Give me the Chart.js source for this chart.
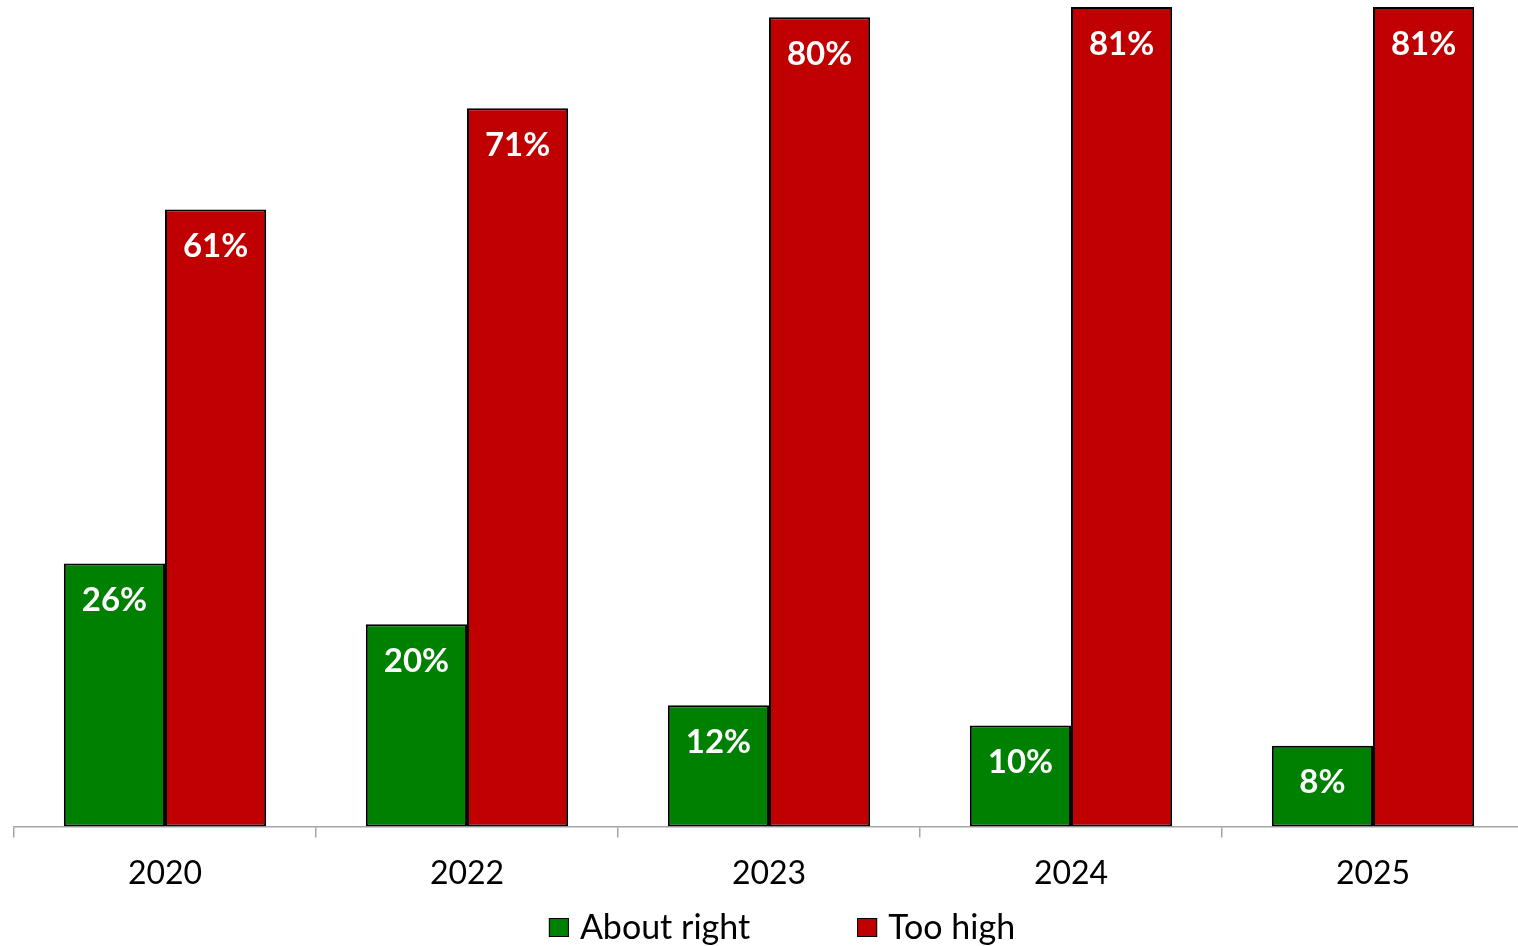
<!DOCTYPE html>
<html>
<head>
<meta charset="utf-8">
<title>About right vs Too high</title>
<script src="https://cdn.jsdelivr.net/npm/chart.js@4"></script>
<style>
  html, body { margin: 0; padding: 0; background: #fff; overflow: hidden; }
  #wrap { width: 1524px; height: 946px; position: relative; }
</style>
</head>
<body>
<div id="wrap"><canvas id="surveyChart"></canvas></div>
<script>
const years = ['2020', '2022', '2023', '2024', '2025'];
const aboutRight = [26, 20, 12, 10, 8];
const tooHigh = [61, 71, 80, 81, 81];

const GREEN = '#008000';
const RED = '#C00000';
const AXIS_GREY = '#A6A6A6';
const FONT = 'Lato, "Open Sans", sans-serif';

// white value labels just inside the top of each bar
const barValues = {
    id: 'barValues',
    afterDatasetsDraw(chart) {
        const ctx = chart.ctx;
        ctx.save();
        ctx.fillStyle = '#fff';
        ctx.font = `bold 33px ${FONT}`;
        ctx.textAlign = 'center';
        ctx.textBaseline = 'middle';
        chart.data.datasets.forEach((ds, i) => {
            chart.getDatasetMeta(i).data.forEach((bar, j) => {
                ctx.fillText(ds.data[j] + '%', bar.x, bar.y + 37);
            });
        });
        ctx.restore();
    }
};

// legend row under the axis, square swatches with a thin black edge
const bottomLegend = {
    id: 'bottomLegend',
    afterDraw(chart) {
        const ctx = chart.ctx;
        const box = 20, gap = 11, spacing = 107;
        const y = 928;
        ctx.save();
        ctx.font = `34px ${FONT}`;
        ctx.textBaseline = 'middle';
        const items = chart.data.datasets.map(ds => ({
            text: ds.label,
            color: ds.backgroundColor,
            w: box + gap + ctx.measureText(ds.label).width
        }));
        const total = items.reduce((s, it) => s + it.w, 0) + spacing * (items.length - 1);
        let x = chart.width / 2 + 20 - total / 2;
        items.forEach(it => {
            ctx.fillStyle = it.color;
            ctx.fillRect(x, y - box / 2, box, box - 1);
            ctx.strokeStyle = '#000';
            ctx.lineWidth = 1;
            ctx.strokeRect(x + 0.5, y - box / 2 + 0.5, box - 1, box - 2);
            ctx.fillStyle = '#000';
            ctx.fillText(it.text, x + box + gap, y);
            x += it.w + spacing;
        });
        ctx.restore();
    }
};

const ctx = document.getElementById('surveyChart').getContext('2d');
const surveyChart = new Chart(ctx, {
    type: 'bar',
    data: {
        labels: years,
        datasets: [
            { label: 'About right', data: aboutRight, backgroundColor: GREEN },
            { label: 'Too high', data: tooHigh, backgroundColor: RED }
        ]
    },
    options: {
        responsive: true,
        maintainAspectRatio: false,
        animation: false,
        layout: { padding: { left: 14, right: 0, top: 0, bottom: 36 } },
        datasets: {
            bar: {
                borderColor: '#000',
                borderWidth: 2,
                borderSkipped: false,
                categoryPercentage: 0.67,
                barPercentage: 1.0
            }
        },
        scales: {
            x: {
                grid: {
                    offset: true,
                    drawOnChartArea: false,
                    tickLength: 11,
                    color: AXIS_GREY,
                    lineWidth: 1.5
                },
                border: { display: true, color: AXIS_GREY, width: 1.5 },
                ticks: {
                    color: '#000',
                    padding: 17,
                    font: { family: FONT, size: 32 }
                }
            },
            y: {
                display: false,
                min: 0,
                max: 81.7
            }
        },
        plugins: {
            legend: { display: false },
            tooltip: { enabled: false }
        }
    },
    plugins: [barValues, bottomLegend]
});
</script>
</body>
</html>
